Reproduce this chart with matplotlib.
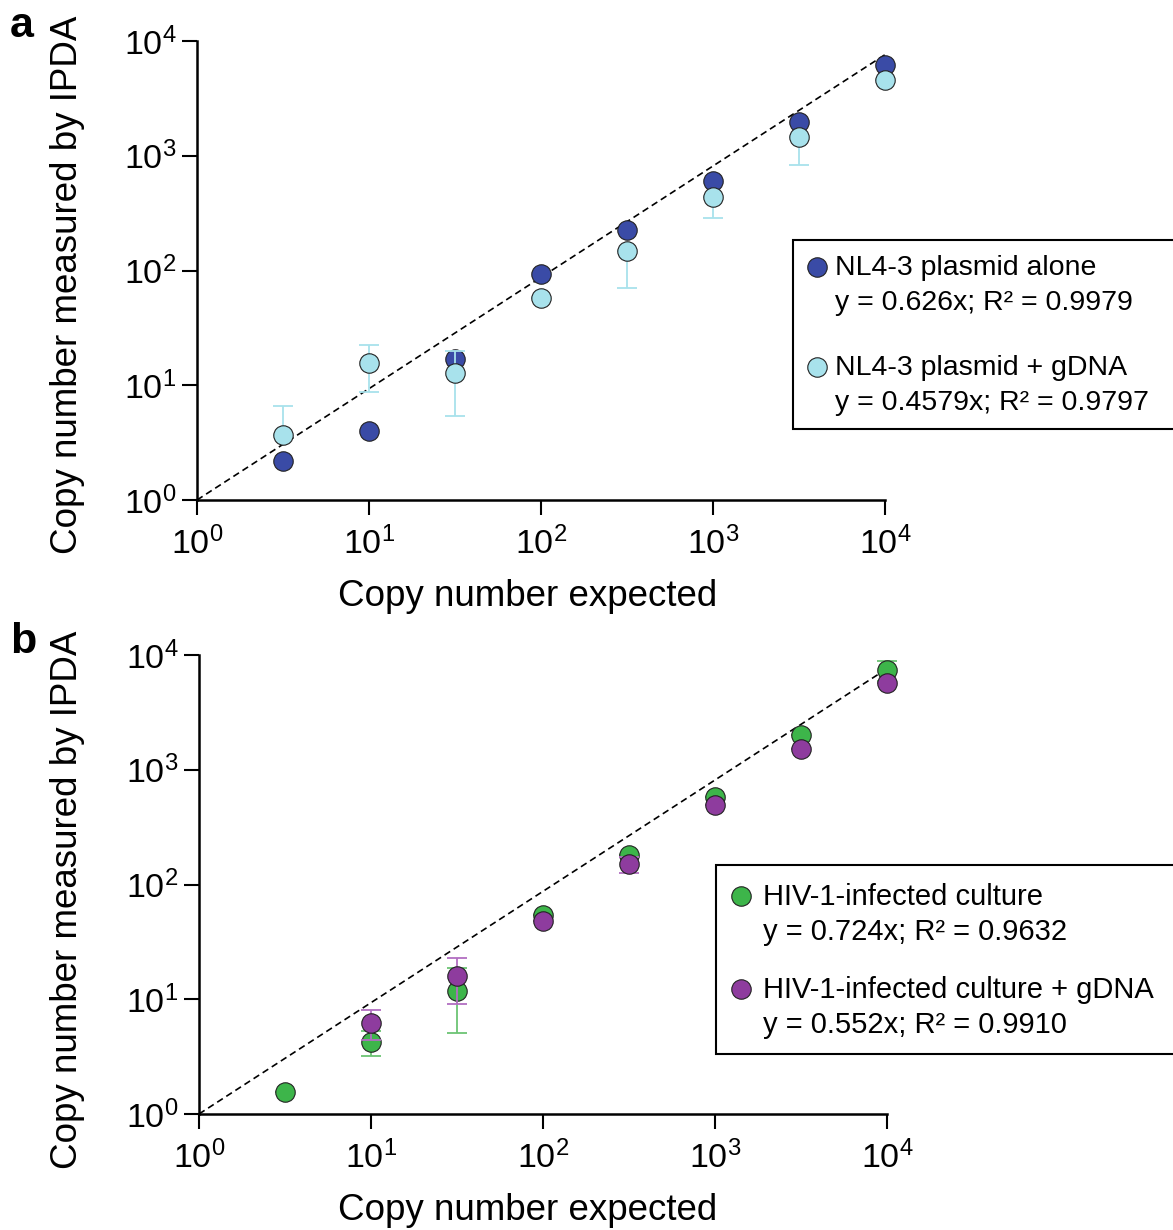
import matplotlib
matplotlib.use("Agg")
import matplotlib.pyplot as plt
import numpy as np
from matplotlib.lines import Line2D
from matplotlib.patches import Rectangle
from matplotlib.ticker import LogLocator, NullLocator

plt.rcParams["font.family"] = ["Liberation Sans", "DejaVu Sans"]
plt.rcParams["mathtext.fontset"] = "custom"
plt.rcParams["mathtext.rm"] = "Liberation Sans"
plt.rcParams["mathtext.it"] = "Liberation Sans:italic"

W, H = 1173, 1230

# copies put in (half-log dilution series)
expected = [3.16, 10, 31.6, 100, 316, 1000, 3160, 10000]

# panel a
plasmid_alone = [2.2, 4.0, 16.9, 93, 225, 603, 1970, 6170]
plasmid_gdna = [3.7, 15.6, 12.8, 57.6, 148, 437, 1457, 4570]
plasmid_gdna_lo = [0, 6.9, 7.4, 0, 78, 150, 627, 0]
plasmid_gdna_hi = [2.9, 6.8, 7.1, 0, 0, 0, 0, 0]

# panel b
culture = [1.56, 4.27, 11.9, 54, 181, 582, 2010, 7400]
culture_err = [0, 1.05, 6.8, 0, 0, 0, 0, 1470]
culture_gdna = [np.nan, 6.25, 15.9, 48.4, 150, 493, 1527, 5660]
culture_gdna_err = [0, 1.8, 6.8, 0, 24, 0, 0, 0]

# dashed reference line end points
ref_x = [1, 10000]
ref_y = [1, 7600]

legend_a = [
    ("NL4-3 plasmid alone", "y = 0.626x; R\u00b2 = 0.9979"),
    ("NL4-3 plasmid + gDNA", "y = 0.4579x; R\u00b2 = 0.9797"),
]
legend_b = [
    ("HIV-1-infected culture", "y = 0.724x; R\u00b2 = 0.9632"),
    ("HIV-1-infected culture + gDNA", "y = 0.552x; R\u00b2 = 0.9910"),
]

c_dark = "#3a4ba6"
c_light = "#a8e2ec"
c_green = "#3db54a"
c_purple = "#8e3c9e"
c_green_err = "#6cc474"
c_purple_err = "#b26ec2"

MS = 14

fig = plt.figure(figsize=(W / 100, H / 100), dpi=100)


def style_axes(ax):
    ax.set_xscale("log")
    ax.set_yscale("log")
    ax.set_xlim(1, 1e4)
    ax.set_ylim(1, 1e4)
    for s in ["top", "right"]:
        ax.spines[s].set_visible(False)
    for s in ["left", "bottom"]:
        ax.spines[s].set_linewidth(1.8)
    ax.xaxis.set_major_locator(LogLocator(base=10, numticks=10))
    ax.yaxis.set_major_locator(LogLocator(base=10, numticks=10))
    ax.xaxis.set_minor_locator(NullLocator())
    ax.yaxis.set_minor_locator(NullLocator())
    ax.tick_params(direction="out", length=11, width=1.5, labelsize=24.5)
    ax.tick_params(axis="x", pad=8)
    ax.tick_params(axis="y", pad=4)
    ax.plot(ref_x, ref_y, color="black", lw=1.2, ls=(0, (4, 2.5)),
            zorder=1, clip_on=False)


def draw_legend(left, top, bottom, marker_x, text_x, rows, colors, fs):
    fig.add_artist(Rectangle((left / W, 1 - bottom / H), 0.6, (bottom - top) / H,
                             transform=fig.transFigure, facecolor="white",
                             edgecolor="black", lw=1.5, zorder=5))
    for (l1, l2, my), col in zip(rows, colors):
        fig.add_artist(Line2D([marker_x / W], [1 - my / H], marker="o", ms=MS,
                              mfc=col, mec="#222222", mew=0.8, ls="none",
                              transform=fig.transFigure, zorder=6))
        fig.text(text_x / W, 1 - (my + 1) / H, l1, fontsize=fs, va="center", zorder=6)
        fig.text(text_x / W, 1 - (my + 36) / H, l2, fontsize=fs, va="center", zorder=6)


# ---- panel a ----
ax_a = fig.add_axes([197 / W, 1 - 500 / H, 688 / W, 459 / H])
style_axes(ax_a)
ax_a.plot(expected, plasmid_alone, "o", ms=MS, mfc=c_dark, mec="#222222",
          mew=0.8, zorder=3, clip_on=False)
ax_a.errorbar(expected, plasmid_gdna, yerr=[plasmid_gdna_lo, plasmid_gdna_hi],
              fmt="none", ecolor=c_light, elinewidth=1.3, capsize=7,
              capthick=1.3, zorder=4, clip_on=False)
ax_a.plot(expected, plasmid_gdna, "o", ms=MS, mfc=c_light, mec="#222222",
          mew=0.8, zorder=5, clip_on=False)

# ---- panel b ----
ax_b = fig.add_axes([199 / W, 1 - 1114 / H, 688 / W, 459 / H])
style_axes(ax_b)
ax_b.errorbar(expected, culture, yerr=culture_err, fmt="none", ecolor=c_green_err,
              elinewidth=1.3, capsize=7, capthick=1.3, zorder=2, clip_on=False)
ax_b.plot(expected, culture, "o", ms=MS, mfc=c_green, mec="#222222",
          mew=0.8, zorder=3, clip_on=False)
ax_b.errorbar(expected, culture_gdna, yerr=culture_gdna_err, fmt="none",
              ecolor=c_purple_err, elinewidth=1.3, capsize=7, capthick=1.3,
              zorder=4, clip_on=False)
ax_b.plot(expected, culture_gdna, "o", ms=MS, mfc=c_purple, mec="#222222",
          mew=0.8, zorder=5, clip_on=False)

# axis titles and panel letters
for yc, yx, lab, ly in [(285, 596, "a", 37), (900, 1210, "b", 653)]:
    fig.text(68 / W, 1 - yc / H, "Copy number measured by IPDA", rotation=90,
             ha="center", va="center", fontsize=26.5)
    fig.text(528 / W, 1 - yx / H, "Copy number expected", ha="center",
             va="center", fontsize=26.5)
    fig.text(10 / W, 1 - ly / H, lab, fontsize=31, fontweight="bold",
             va="baseline")

draw_legend(793, 240, 429, 817, 835,
            [(legend_a[0][0], legend_a[0][1], 267), (legend_a[1][0], legend_a[1][1], 367)],
            [c_dark, c_light], 20.5)
draw_legend(716, 865, 1054, 741, 763,
            [(legend_b[0][0], legend_b[0][1], 896), (legend_b[1][0], legend_b[1][1], 989)],
            [c_green, c_purple], 21)

fig.savefig("out.png", dpi=100)
